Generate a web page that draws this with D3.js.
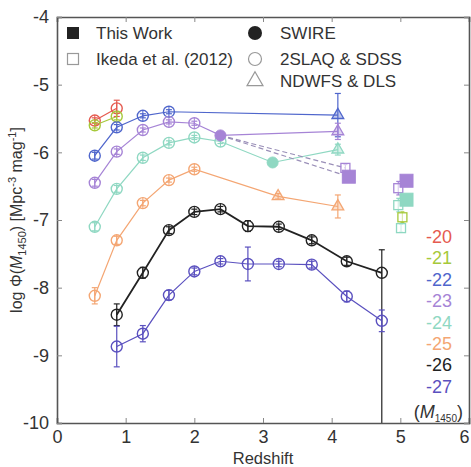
<!DOCTYPE html>
<html>
<head>
<meta charset="utf-8">
<script src="https://cdn.jsdelivr.net/npm/d3@7"></script>
<style>
  body { margin: 0; background: #fff; }
  svg { display: block; font-family: "Liberation Sans", Arial, sans-serif; }
</style>
</head>
<body>
<script>
// magnitude bins and their colours
const mags = [-20, -21, -22, -23, -24, -25, -26, -27];
const magColors = ["#e55a4f", "#a6c93a", "#4f66cc", "#a684d6", "#8fd8c2", "#f4a673", "#222222", "#5a50bf"];

// 2SLAQ & SDSS (open circles), bin centres in redshift
const sdssZ = [0.55, 0.87, 1.25, 1.63, 2.0, 2.38, 2.78, 3.23, 3.71, 4.22, 4.73];
const phi20 = [-5.53, -5.35];
const err20 = [0.04, 0.12];
const phi21 = [-5.6, -5.47];
const err21 = [0.04, 0.05];
const phi22 = [-6.05, -5.63, -5.46, -5.4];
const err22 = [0.05, 0.04, 0.03, 0.03];
const phi23 = [-6.45, -5.99, -5.67, -5.55, -5.57];
const err23 = [0.05, 0.04, 0.03, 0.03, 0.03];
const phi24 = [-7.1, -6.54, -6.08, -5.86, -5.78, -5.84];
const err24 = [0.06, 0.05, 0.04, 0.03, 0.03, 0.03];
const phi25 = [-8.12, -7.3, -6.75, -6.41, -6.25];
const err25 = [0.12, 0.06, 0.04, 0.03, 0.03];
const phi26 = [null, -8.4, -7.78, -7.15, -6.88, -6.84, -7.09, -7.1, -7.3, -7.61, -7.78];
const err26 = [null, 0.16, 0.08, 0.05, 0.04, 0.04, 0.08, 0.04, 0.05, 0.06, 0.34];
const err26Low = [null, 0.16, 0.08, 0.05, 0.04, 0.04, 0.08, 0.04, 0.05, 0.06, 2.5];
const phi27 = [null, -8.87, -8.68, -8.11, -7.76, -7.61, -7.65, -7.65, -7.66, -8.13, -8.49];
const err27 = [null, 0.3, 0.12, 0.07, 0.05, 0.04, 0.25, 0.04, 0.05, 0.08, 0.16];

// SWIRE (filled circles)
const swireZ = [2.38, 3.14];
const swirePhi = [-5.75, -6.15];
const swireMag = [-23, -24];

// NDWFS & DLS (triangles)
const ndwfsZ = [4.09, 4.09, 4.09, 3.22, 4.09];
const ndwfsPhi = [-5.45, -5.69, -5.96, -6.65, -6.8];
const ndwfsErr = [0.32, 0.12, 0.08, 0.04, 0.17];
const ndwfsMag = [-22, -23, -24, -25, -25];

// Ikeda et al. (2012) (open squares)
const ikedaZ = [4.2, 4.97, 4.97, 5.03, 5.01];
const ikedaPhi = [-6.23, -6.53, -6.78, -6.96, -7.12];
const ikedaErr = [0.05, 0.1, 0.1, 0.08, 0.06];
const ikedaMag = [-23, -23, -24, -21, -24];

// This work (filled squares)
const workZ = [4.25, 5.09, 5.09];
const workPhi = [-6.36, -6.42, -6.7];
const workErr = [0.08, 0.07, 0.07];
const workMag = [-23, -23, -24];

// dashed links z~2.4 -> z~4.2
const dashFromZ = [2.38, 2.38];
const dashFromPhi = [-5.75, -5.75];
const dashToZ = [4.2, 4.25];
const dashToPhi = [-6.23, -6.36];

const xTicks = [0, 1, 2, 3, 4, 5, 6];
const yTicks = [-4, -5, -6, -7, -8, -9, -10];

const W = 471, H = 467;
const m = { left: 57, right: 2, top: 17, bottom: 44 };

const svg = d3.select("body").append("svg").attr("width", W).attr("height", H);

const x = d3.scaleLinear().domain([0, 6]).range([m.left, W - m.right]);
const y = d3.scaleLinear().domain([-10, -4]).range([H - m.bottom, m.top]);
const col = d => magColors[mags.indexOf(d)];

// collect points
const sdssPhis = [phi20, phi21, phi22, phi23, phi24, phi25, phi26, phi27];
const sdssErrs = [err20, err21, err22, err23, err24, err25, err26, err27];
const sdss = [];
sdssPhis.forEach((arr, k) => {
  arr.forEach((v, i) => {
    if (v === null) return;
    const e = sdssErrs[k][i];
    const lo = mags[k] === -26 ? err26Low[i] : e;
    sdss.push({ z: sdssZ[i], phi: v, err: e, errLo: lo, mag: mags[k] });
  });
});
const swire = swireZ.map((z, i) => ({ z, phi: swirePhi[i], err: 0.03, mag: swireMag[i] }));
const ndwfs = ndwfsZ.map((z, i) => ({ z, phi: ndwfsPhi[i], err: ndwfsErr[i], mag: ndwfsMag[i] }));
const ikeda = ikedaZ.map((z, i) => ({ z, phi: ikedaPhi[i], err: ikedaErr[i], mag: ikedaMag[i] }));
const work = workZ.map((z, i) => ({ z, phi: workPhi[i], err: workErr[i], mag: workMag[i] }));

const plot = svg.append("g");

// connecting lines per magnitude
const line = d3.line().x(d => x(d.z)).y(d => y(d.phi));
mags.forEach(mg => {
  const pts = sdss.concat(swire, ndwfs).filter(d => d.mag === mg).sort((a, b) => a.z - b.z);
  plot.append("path").datum(pts)
    .attr("d", line)
    .attr("fill", "none")
    .attr("stroke", col(mg))
    .attr("stroke-width", mg === -26 ? 1.8 : 1.2);
});

dashFromZ.forEach((z, i) => {
  plot.append("line")
    .attr("x1", x(z)).attr("y1", y(dashFromPhi[i]))
    .attr("x2", x(dashToZ[i])).attr("y2", y(dashToPhi[i]))
    .attr("stroke", "#9a8fb8")
    .attr("stroke-width", 1.2)
    .attr("stroke-dasharray", "5,3");
});

// error bars
function errBars(data, cap) {
  const g = plot.append("g");
  data.forEach(d => {
    const c = col(d.mag);
    const lo = d.phi - (d.errLo !== undefined ? d.errLo : d.err);
    const y1 = y(Math.max(lo, -10));
    const y2 = y(d.phi + d.err);
    g.append("line").attr("x1", x(d.z)).attr("x2", x(d.z)).attr("y1", y1).attr("y2", y2)
      .attr("stroke", c).attr("stroke-width", 1.2);
    const caps = lo < -10 ? [y2] : [y1, y2];
    caps.forEach(yy => {
      g.append("line").attr("x1", x(d.z) - cap).attr("x2", x(d.z) + cap).attr("y1", yy).attr("y2", yy)
        .attr("stroke", c).attr("stroke-width", 1.2);
    });
  });
}

errBars(sdss, 3);
errBars(ndwfs, 3);
errBars(ikeda, 2);
errBars(work, 2);

// markers
plot.selectAll("circle.sdss").data(sdss).enter().append("circle")
  .attr("class", "sdss")
  .attr("cx", d => x(d.z)).attr("cy", d => y(d.phi)).attr("r", 5.5)
  .attr("fill", "none").attr("stroke", d => col(d.mag)).attr("stroke-width", 1.4);

plot.selectAll("line.through").data(sdss).enter().append("line")
  .attr("x1", d => x(d.z)).attr("x2", d => x(d.z))
  .attr("y1", d => y(d.phi) - 5.5).attr("y2", d => y(d.phi) + 5.5)
  .attr("stroke", d => col(d.mag)).attr("stroke-width", 1);

plot.selectAll("circle.swire").data(swire).enter().append("circle")
  .attr("cx", d => x(d.z)).attr("cy", d => y(d.phi)).attr("r", 5.5)
  .attr("fill", d => col(d.mag)).attr("stroke", d => col(d.mag));

const tri = d3.symbol().type(d3.symbolTriangle).size(60);
plot.selectAll("path.ndwfs").data(ndwfs).enter().append("path")
  .attr("d", tri)
  .attr("transform", d => `translate(${x(d.z)},${y(d.phi)})`)
  .attr("fill", d => col(d.mag)).attr("fill-opacity", 0.35)
  .attr("stroke", d => col(d.mag)).attr("stroke-width", 1.3);

plot.selectAll("rect.ikeda").data(ikeda).enter().append("rect")
  .attr("x", d => x(d.z) - 4.5).attr("y", d => y(d.phi) - 4.5)
  .attr("width", 9).attr("height", 9)
  .attr("fill", "#fff").attr("fill-opacity", 0.6)
  .attr("stroke", d => col(d.mag)).attr("stroke-width", 1.3);

plot.selectAll("rect.work").data(work).enter().append("rect")
  .attr("x", d => x(d.z) - 6.5).attr("y", d => y(d.phi) - 6.5)
  .attr("width", 13).attr("height", 13)
  .attr("fill", d => col(d.mag)).attr("stroke", d => col(d.mag));

// frame + axes (ticks inward, mirrored)
const frame = svg.append("g");
const xb = frame.append("g").attr("transform", `translate(0,${H - m.bottom})`)
  .call(d3.axisBottom(x).tickValues(xTicks).tickSize(-5).tickPadding(7).tickFormat(d3.format("d")));
xb.selectAll(".tick text").filter(d => d === 6).attr("text-anchor", "end").attr("dx", 0);
frame.append("g").attr("transform", `translate(0,${m.top})`)
  .call(d3.axisTop(x).tickValues(xTicks).tickSize(-5).tickFormat(""));
frame.append("g").attr("transform", `translate(${m.left},0)`)
  .call(d3.axisLeft(y).tickValues(yTicks).tickSize(-5).tickPadding(8).tickFormat(d => String(d).replace("\u2212", "-")));
frame.append("g").attr("transform", `translate(${W - m.right},0)`)
  .call(d3.axisRight(y).tickValues(yTicks).tickSize(-5).tickFormat(""));
frame.selectAll(".domain").attr("stroke", "#555").attr("stroke-width", 1.6);
frame.selectAll(".tick line").attr("stroke", "#888");
frame.selectAll(".tick text").attr("font-size", 18).attr("fill", "#333")
  .attr("font-family", "Liberation Sans, Arial, sans-serif");

// axis titles
svg.append("text").attr("x", 263).attr("y", 464).attr("text-anchor", "middle")
  .attr("font-size", 16.5).attr("fill", "#333").text("Redshift");

const yl = svg.append("text")
  .attr("transform", "translate(22,220) rotate(-90)")
  .attr("text-anchor", "middle").attr("font-size", 16).attr("fill", "#333");
yl.append("tspan").text("log \u03A6(");
yl.append("tspan").attr("font-style", "italic").text("M");
yl.append("tspan").attr("font-size", 11).attr("dy", 4).text("1450");
yl.append("tspan").attr("dy", -4).text(") [Mpc");
yl.append("tspan").attr("font-size", 11).attr("dy", -6).text("-3");
yl.append("tspan").attr("dy", 6).text(" mag");
yl.append("tspan").attr("font-size", 11).attr("dy", -6).text("-1");
yl.append("tspan").attr("dy", 6).text("]");

// legend
const leg = svg.append("g").attr("font-size", 17).attr("fill", "#333");
leg.append("rect").attr("x", 67).attr("y", 27).attr("width", 12).attr("height", 12).attr("fill", "#222");
leg.append("rect").attr("x", 67.5).attr("y", 53.5).attr("width", 11).attr("height", 11)
  .attr("fill", "none").attr("stroke", "#999").attr("stroke-width", 1.2);
leg.append("text").attr("x", 96).attr("y", 39).text("This Work");
leg.append("text").attr("x", 96).attr("y", 65).text("Ikeda et al. (2012)");
leg.append("circle").attr("cx", 255).attr("cy", 33).attr("r", 7).attr("fill", "#222");
leg.append("circle").attr("cx", 255).attr("cy", 59).attr("r", 6.5).attr("fill", "none")
  .attr("stroke", "#999").attr("stroke-width", 1.2);
leg.append("path").attr("d", d3.symbol().type(d3.symbolTriangle).size(110))
  .attr("transform", "translate(255,81)").attr("fill", "none").attr("stroke", "#999").attr("stroke-width", 1.2);
leg.append("text").attr("x", 280).attr("y", 39).text("SWIRE");
leg.append("text").attr("x", 280).attr("y", 65).text("2SLAQ & SDSS");
leg.append("text").attr("x", 280).attr("y", 87).text("NDWFS & DLS");

// magnitude labels
const ml = svg.append("g").attr("font-size", 18).attr("text-anchor", "end");
mags.forEach((mg, i) => {
  ml.append("text").attr("x", 452).attr("y", 243 + i * 21.4).attr("fill", magColors[i]).text(String(mg));
});
const mt = ml.append("text").attr("x", 463).attr("y", 418).attr("fill", "#333");
mt.append("tspan").text("(");
mt.append("tspan").attr("font-style", "italic").text("M");
mt.append("tspan").attr("font-size", 10).attr("dy", 4).text("1450");
mt.append("tspan").attr("dy", -4).text(")");
</script>
</body>
</html>
